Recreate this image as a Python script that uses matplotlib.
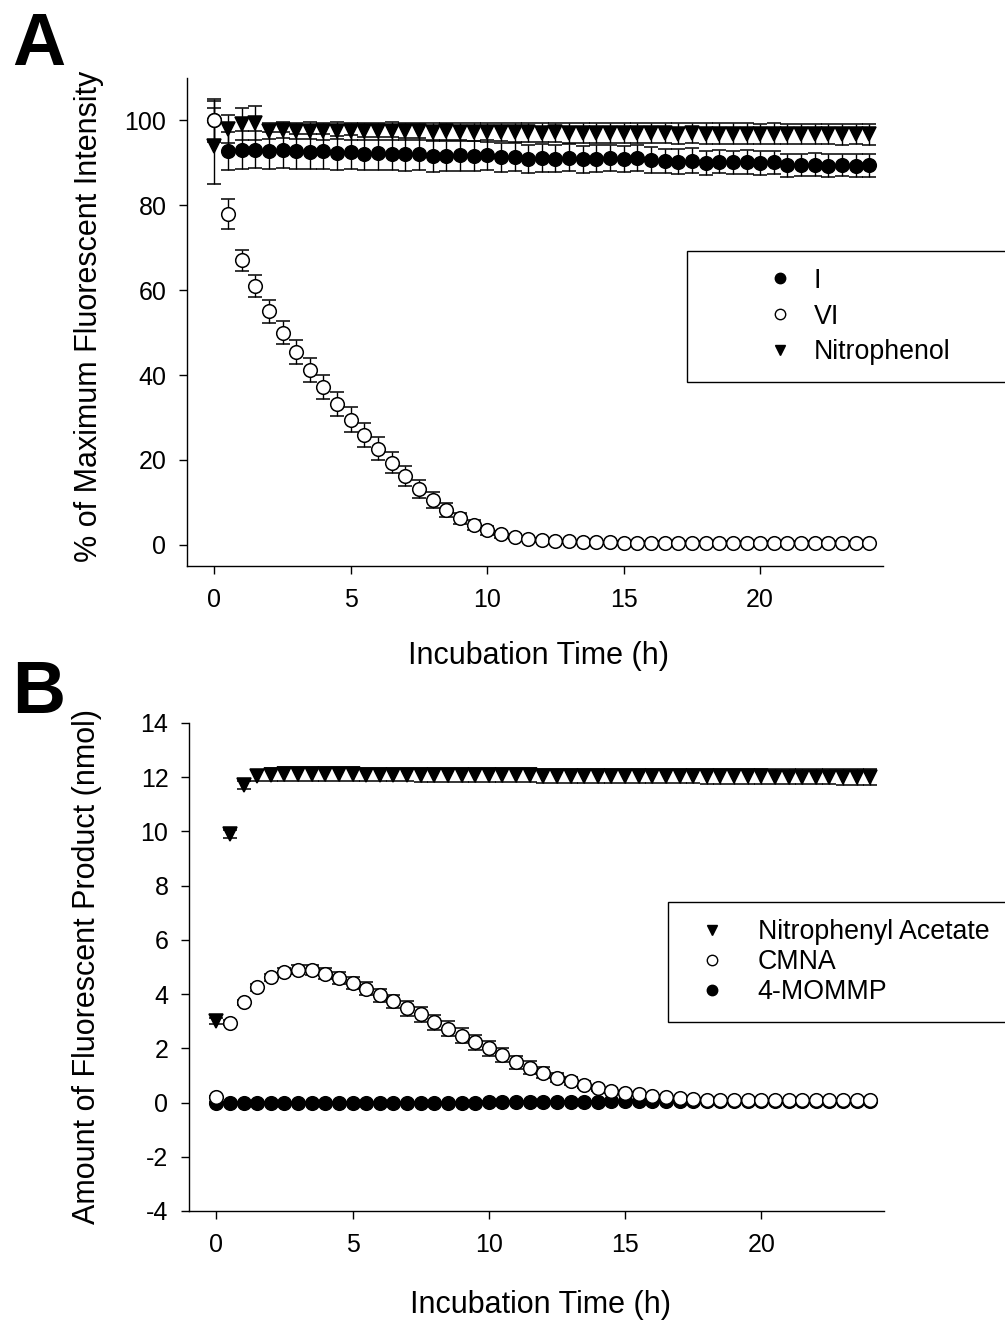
import matplotlib
matplotlib.use('Agg')

import matplotlib.pyplot as plt
from matplotlib.lines import Line2D

plt.rcParams['font.family'] = ['Liberation Sans', 'DejaVu Sans']
plt.rcParams['axes.unicode_minus'] = False

# sampling times (h), every 30 min
time_h = [0, 0.5, 1, 1.5, 2, 2.5, 3, 3.5, 4, 4.5,
          5, 5.5, 6, 6.5, 7, 7.5, 8, 8.5, 9, 9.5,
          10, 10.5, 11, 11.5, 12, 12.5, 13, 13.5, 14, 14.5,
          15, 15.5, 16, 16.5, 17, 17.5, 18, 18.5, 19, 19.5,
          20, 20.5, 21, 21.5, 22, 22.5, 23, 23.5, 24]

# panel A: % of maximum fluorescent intensity
a_I = [100.0, 92.8, 93.0, 93.1, 92.9, 93.0, 92.7, 92.6, 92.7, 92.4,
       92.5, 92.2, 92.3, 92.2, 92.0, 92.1, 91.6, 91.6, 91.8, 91.7,
       91.9, 91.3, 91.4, 91.0, 91.2, 91.0, 91.2, 90.8, 91.0, 91.1,
       90.9, 91.2, 90.7, 90.4, 90.3, 90.5, 90.0, 90.3, 90.1, 90.2,
       90.0, 90.1, 89.4, 89.5, 89.6, 89.3, 89.5, 89.3, 89.4]
a_I_err = [4.5, 4.4, 4.4, 4.3, 4.3, 4.2, 4.2, 4.1, 4.1, 4.0,
           4.0, 3.9, 3.9, 3.8, 3.8, 3.7, 3.7, 3.6, 3.6, 3.5,
           3.5, 3.4, 3.4, 3.3, 3.3, 3.2, 3.2, 3.1, 3.1, 3.1,
           3.0, 3.0, 3.0, 2.9, 2.9, 2.9, 2.9, 2.8, 2.8, 2.8,
           2.8, 2.8, 2.7, 2.7, 2.7, 2.7, 2.7, 2.7, 2.7]
a_VI = [100.0, 78.0, 67.0, 61.0, 55.0, 50.0, 45.4, 41.2, 37.2, 33.2,
        29.5, 25.9, 22.6, 19.3, 16.2, 13.2, 10.6, 8.2, 6.2, 4.6,
        3.4, 2.5, 1.9, 1.4, 1.1, 0.9, 0.8, 0.7, 0.6, 0.6,
        0.5, 0.5, 0.5, 0.5, 0.5, 0.5, 0.5, 0.5, 0.5, 0.5,
        0.5, 0.5, 0.5, 0.5, 0.5, 0.5, 0.5, 0.5, 0.5]
a_VI_err = [5.0, 3.6, 2.4, 2.6, 2.7, 2.8, 2.8, 2.8, 2.8, 2.9,
            2.9, 2.8, 2.7, 2.5, 2.3, 2.1, 1.9, 1.6, 1.4, 1.2,
            1.0, 0.8, 0.6, 0.5, 0.4, 0.3, 0.3, 0.3, 0.3, 0.3,
            0.3, 0.3, 0.3, 0.3, 0.3, 0.3, 0.3, 0.3, 0.3, 0.3,
            0.3, 0.3, 0.3, 0.3, 0.3, 0.3, 0.3, 0.3, 0.3]
a_nitro = [94.0, 98.0, 99.2, 99.5, 97.6, 97.7, 97.6, 97.6, 97.5, 97.6,
           97.5, 97.5, 97.4, 97.5, 97.4, 97.4, 97.3, 97.4, 97.3, 97.3,
           97.2, 97.3, 97.2, 97.2, 97.1, 97.2, 97.1, 97.1, 97.1, 97.0,
           97.1, 97.0, 97.0, 97.0, 96.9, 97.0, 96.9, 96.9, 96.9, 96.9,
           96.8, 96.9, 96.8, 96.8, 96.8, 96.8, 96.7, 96.8, 96.7]
a_nitro_err = [9.0, 3.2, 3.8, 4.0, 1.9, 1.9, 1.9, 2.0, 2.0, 2.0,
               2.0, 2.0, 2.1, 2.1, 2.1, 2.1, 2.1, 2.1, 2.2, 2.2,
               2.2, 2.2, 2.2, 2.2, 2.2, 2.3, 2.3, 2.3, 2.3, 2.3,
               2.3, 2.3, 2.3, 2.3, 2.4, 2.4, 2.4, 2.4, 2.4, 2.4,
               2.4, 2.4, 2.4, 2.4, 2.4, 2.4, 2.4, 2.4, 2.4]

# panel B: amount of fluorescent product (nmol)
b_na = [3.0, 9.9, 11.7, 12.05, 12.1, 12.12, 12.12, 12.12, 12.11, 12.11,
        12.11, 12.1, 12.1, 12.1, 12.1, 12.09, 12.09, 12.09, 12.08, 12.08,
        12.08, 12.07, 12.07, 12.07, 12.06, 12.06, 12.06, 12.06, 12.05, 12.05,
        12.05, 12.05, 12.04, 12.04, 12.04, 12.04, 12.03, 12.03, 12.03, 12.03,
        12.03, 12.02, 12.02, 12.02, 12.02, 12.02, 12.01, 12.01, 12.01]
b_na_err = [0.12, 0.15, 0.15, 0.2, 0.25, 0.25, 0.25, 0.25, 0.25, 0.25,
            0.25, 0.25, 0.25, 0.25, 0.25, 0.25, 0.25, 0.25, 0.25, 0.25,
            0.26, 0.26, 0.26, 0.26, 0.26, 0.26, 0.26, 0.26, 0.26, 0.26,
            0.27, 0.27, 0.27, 0.27, 0.27, 0.27, 0.27, 0.27, 0.27, 0.27,
            0.28, 0.28, 0.28, 0.28, 0.28, 0.28, 0.28, 0.28, 0.28]
b_cmna = [0.2, 2.95, 3.7, 4.25, 4.62, 4.8, 4.9, 4.88, 4.76, 4.6,
          4.4, 4.2, 3.95, 3.73, 3.47, 3.25, 2.96, 2.73, 2.47, 2.22,
          2.0, 1.74, 1.48, 1.29, 1.1, 0.92, 0.78, 0.66, 0.52, 0.44,
          0.37, 0.33, 0.26, 0.22, 0.17, 0.13, 0.11, 0.1, 0.1, 0.1,
          0.1, 0.1, 0.1, 0.1, 0.1, 0.1, 0.1, 0.1, 0.1]
b_cmna_err = [0.05, 0.08, 0.1, 0.12, 0.14, 0.15, 0.16, 0.18, 0.2, 0.21,
              0.22, 0.23, 0.24, 0.25, 0.26, 0.27, 0.28, 0.28, 0.28, 0.28,
              0.27, 0.26, 0.25, 0.23, 0.2, 0.18, 0.15, 0.12, 0.1, 0.08,
              0.07, 0.06, 0.05, 0.05, 0.04, 0.04, 0.04, 0.04, 0.04, 0.04,
              0.04, 0.04, 0.04, 0.04, 0.04, 0.04, 0.04, 0.04, 0.04]
b_mommp = [0.0, 0.0, 0.0, 0.0, 0.0, 0.0, 0.0, 0.0, 0.0, 0.0,
           0.0, 0.0, 0.0, 0.0, 0.0, 0.0, 0.0, 0.0, 0.0, 0.0,
           0.01, 0.01, 0.01, 0.01, 0.02, 0.02, 0.02, 0.03, 0.03, 0.04,
           0.04, 0.05, 0.05, 0.06, 0.06, 0.07, 0.07, 0.07, 0.07, 0.07,
           0.07, 0.07, 0.07, 0.07, 0.07, 0.07, 0.07, 0.07, 0.07]
b_mommp_err = [0.03] * 49

a_yticks = [0, 20, 40, 60, 80, 100]
b_yticks = [-4, -2, 0, 2, 4, 6, 8, 10, 12, 14]
x_ticks = [0, 5, 10, 15, 20]

W, H = 1005, 1321
fig = plt.figure(figsize=(W / 100, H / 100), dpi=100)

tick_fs = 18
label_fs = 22
leg_fs = 19.3
msize = 9.8


def style_axes(ax):
    for side in ['top', 'right']:
        ax.spines[side].set_visible(False)
    for side in ['left', 'bottom']:
        ax.spines[side].set_linewidth(1.0)
    ax.tick_params(direction='out', length=5.8, width=1.0, labelsize=tick_fs)
    ax.tick_params(axis='x', pad=10)
    ax.tick_params(axis='y', pad=9)


def draw(ax, y, err, marker, face, z):
    ax.errorbar(time_h, y, yerr=err, fmt=marker, ms=msize, mfc=face, mec='black',
                mew=1.1, ecolor='black', elinewidth=1.0, capsize=4.7, capthick=1.0,
                zorder=z, clip_on=False)


# ---- panel A
axA = fig.add_axes([187 / W, 1 - 566 / H, 696 / W, 488 / H])
draw(axA, a_I, a_I_err, 'o', 'black', 2)
draw(axA, a_nitro, a_nitro_err, 'v', 'black', 3)
draw(axA, a_VI, a_VI_err, 'o', 'white', 4)
axA.set_xlim(-1, 24.5)
axA.set_ylim(-5, 110)
axA.set_xticks(x_ticks)
axA.set_yticks(a_yticks)
style_axes(axA)
axA.set_xlabel('Incubation Time (h)', fontsize=label_fs)
axA.set_ylabel('% of Maximum Fluorescent Intensity', fontsize=label_fs)
axA.xaxis.set_label_coords(0.505, -0.153)
axA.yaxis.set_label_coords(-0.119, 0.512)

handlesA = [Line2D([], [], ls='none', marker='o', ms=7.5, mfc='black', mec='black'),
            Line2D([], [], ls='none', marker='o', ms=7.5, mfc='white', mec='black'),
            Line2D([], [], ls='none', marker='v', ms=7.5, mfc='black', mec='black')]
legA = axA.legend(handlesA, ['I', 'VI', 'Nitrophenol'], loc='upper left',
                  bbox_to_anchor=(687 / W, 1 - 382 / H, 360 / W, 131 / H),
                  bbox_transform=fig.transFigure, mode='expand', borderaxespad=0,
                  fontsize=leg_fs, frameon=True, fancybox=False, framealpha=1,
                  edgecolor='black', borderpad=0.62, labelspacing=0.37,
                  handlelength=5.7, handletextpad=-1.6)
legA.get_frame().set_linewidth(1.0)

# ---- panel B
axB = fig.add_axes([189 / W, 1 - 1211 / H, 695 / W, 488 / H])
draw(axB, b_mommp, b_mommp_err, 'o', 'black', 2)
draw(axB, b_cmna, b_cmna_err, 'o', 'white', 3)
draw(axB, b_na, b_na_err, 'v', 'black', 4)
axB.set_xlim(-1, 24.5)
axB.set_ylim(-4, 14)
axB.set_xticks(x_ticks)
axB.set_yticks(b_yticks)
style_axes(axB)
axB.set_xlabel('Incubation Time (h)', fontsize=label_fs)
axB.set_ylabel('Amount of Fluorescent Product (nmol)', fontsize=label_fs)
axB.xaxis.set_label_coords(0.506, -0.162)
axB.yaxis.set_label_coords(-0.125, 0.5)

handlesB = [Line2D([], [], ls='none', marker='v', ms=7.5, mfc='black', mec='black'),
            Line2D([], [], ls='none', marker='o', ms=7.5, mfc='white', mec='black'),
            Line2D([], [], ls='none', marker='o', ms=7.5, mfc='black', mec='black')]
legB = axB.legend(handlesB, ['Nitrophenyl Acetate', 'CMNA', '4-MOMMP'], loc='upper left',
                  bbox_to_anchor=(668 / W, 1 - 1021 / H, 380 / W, 119 / H),
                  bbox_transform=fig.transFigure, mode='expand', borderaxespad=0,
                  fontsize=leg_fs, frameon=True, fancybox=False, framealpha=1,
                  edgecolor='black', borderpad=0.63, labelspacing=0.15,
                  handlelength=2.0, handletextpad=0.72)
legB.get_frame().set_linewidth(1.0)

fig.text(12 / W, 1 - 65 / H, 'A', fontsize=53, fontweight='bold', va='baseline')
fig.text(12 / W, 1 - 713 / H, 'B', fontsize=53, fontweight='bold', va='baseline')

plt.savefig('out.png', dpi=100)
